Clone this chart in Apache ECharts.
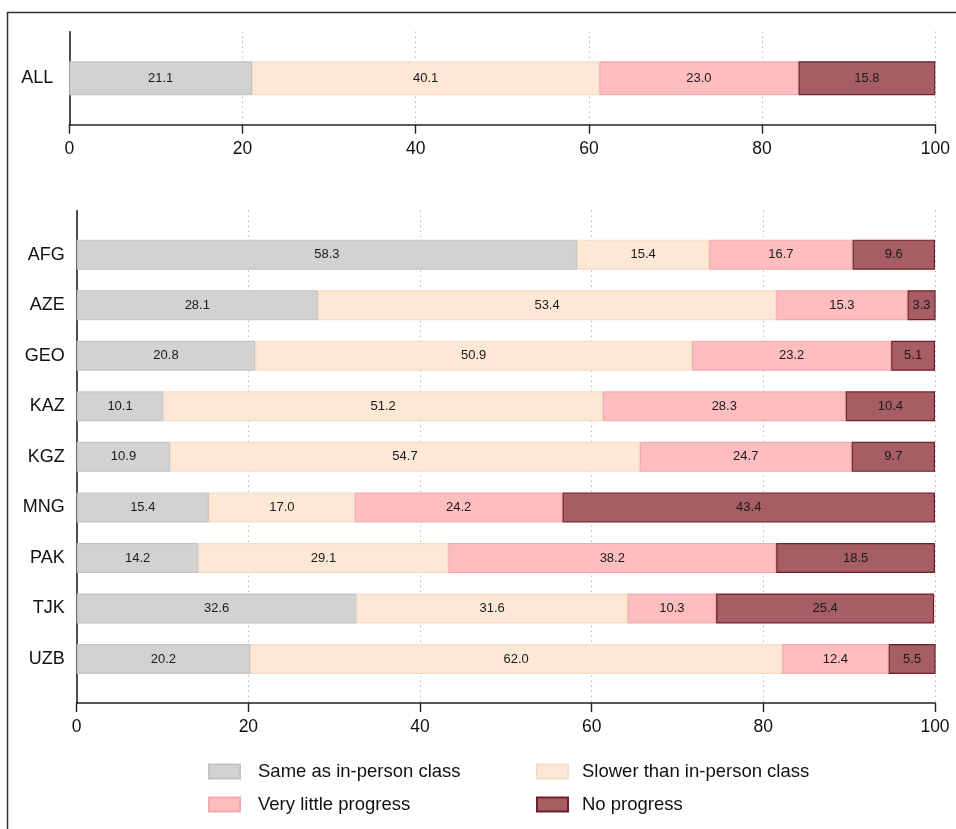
<!DOCTYPE html>
<html>
<head>
<meta charset="utf-8">
<script src="https://cdn.jsdelivr.net/npm/echarts@6/dist/echarts.min.js"></script>
<style>
html,body{margin:0;padding:0;background:#fff;}
#chart{width:956px;height:829px;}
</style>
</head>
<body>
<div id="chart"></div>
<script>
var seriesNames = ['Same as in-person class', 'Slower than in-person class', 'Very little progress', 'No progress'];
var allCategory = ['ALL'];
var allSame = [21.1];
var allSlower = [40.1];
var allLittle = [23.0];
var allNone = [15.8];

var countries = ['AFG', 'AZE', 'GEO', 'KAZ', 'KGZ', 'MNG', 'PAK', 'TJK', 'UZB'];
var sameVals   = [58.3, 28.1, 20.8, 10.1, 10.9, 15.4, 14.2, 32.6, 20.2];
var slowerVals = [15.4, 53.4, 50.9, 51.2, 54.7, 17.0, 29.1, 31.6, 62.0];
var littleVals = [16.7, 15.3, 23.2, 28.3, 24.7, 24.2, 38.2, 10.3, 12.4];
var noneVals   = [9.6, 3.3, 5.1, 10.4, 9.7, 43.4, 18.5, 25.4, 5.5];
var xTicks = [0, 20, 40, 60, 80, 100];

var fills = ['#d2d2d2', '#fde7d5', '#ffbdc0', '#a65d63'];
var borders = ['#c4c4c4', '#f6dcc6', '#efabaf', '#6e1f28'];
var FONT = 'Liberation Sans, Arial, Helvetica, sans-serif';

function mkSeries(name, idx, data, axisIdx, stack, barW) {
  return {
    name: name, type: 'bar', stack: stack, data: data,
    xAxisIndex: axisIdx, yAxisIndex: axisIdx,
    barWidth: barW,
    itemStyle: { color: fills[idx], borderColor: borders[idx], borderWidth: 1.2 },
    label: {
      show: true, position: 'inside', color: '#1a1a1a', fontSize: 13, fontFamily: FONT,
      formatter: function (p) { return Number(p.value).toFixed(1); }
    },
    emphasis: { disabled: true },
    z: 3
  };
}

var valueAxisCommon = function (gridIndex, showAll) {
  return {
    type: 'value', gridIndex: gridIndex, min: 0, max: 100, interval: 20,
    show: showAll,
    axisLine: { show: true, lineStyle: { color: '#222', width: 1.6 } },
    axisTick: { show: true, length: 9, lineStyle: { color: '#222', width: 1.4 } },
    axisLabel: {
      show: true, fontSize: 17.5, color: '#111', fontFamily: FONT, margin: 15,
      formatter: function (v) { return xTicks.indexOf(v) >= 0 ? String(v) : ''; }
    },
    splitLine: { show: true, lineStyle: { color: '#9a9a9a', type: [1, 4], width: 1 } }
  };
};

var chart = echarts.init(document.getElementById('chart'), null, { renderer: 'canvas' });
var option = {
  backgroundColor: '#fff',
  animation: false,
  textStyle: { fontFamily: FONT },
  graphic: [{
    type: 'polyline', silent: true,
    shape: { points: [[7.5, 840], [7.5, 12.5], [970, 12.5]] },
    style: { stroke: '#333', lineWidth: 1.5, fill: null }
  }],
  grid: [
    { left: 69.3, right: 20.7, top: 31.7, height: 93, containLabel: false },
    { left: 76.7, right: 21, top: 210.7, height: 492.3, containLabel: false },
    { left: 76.7, right: 21, top: 229.4, height: 454.9, containLabel: false }
  ],
  xAxis: [
    valueAxisCommon(0, true),
    valueAxisCommon(1, true),
    { type: 'value', gridIndex: 2, min: 0, max: 100, interval: 20, show: false }
  ],
  yAxis: [
    {
      type: 'category', gridIndex: 0, data: allCategory, inverse: true,
      axisLine: { show: true, lineStyle: { color: '#222', width: 1.6 } },
      axisTick: { show: false },
      axisLabel: { fontSize: 18, color: '#111', fontFamily: FONT, margin: 16 },
      splitLine: { show: false }
    },
    {
      type: 'value', gridIndex: 1, min: 0, max: 1,
      axisLine: { show: true, lineStyle: { color: '#222', width: 1.6 } },
      axisTick: { show: false }, axisLabel: { show: false }, splitLine: { show: false }
    },
    {
      type: 'category', gridIndex: 2, data: countries, inverse: true,
      axisLine: { show: false }, axisTick: { show: false },
      axisLabel: { fontSize: 18, color: '#111', fontFamily: FONT, margin: 12 },
      splitLine: { show: false }
    }
  ],
  legend: [
    {
      data: [seriesNames[0], seriesNames[2]], orient: 'vertical', icon: 'rect',
      left: 203, top: 757, itemWidth: 31, itemHeight: 14, itemGap: 14,
      textStyle: { fontSize: 18.5, color: '#111', fontFamily: FONT, padding: [0, 0, 0, 13], lineHeight: 19 },
      selectedMode: false
    },
    {
      data: [seriesNames[1], seriesNames[3]], orient: 'vertical', icon: 'rect',
      left: 531, top: 757, itemWidth: 31, itemHeight: 14, itemGap: 14,
      textStyle: { fontSize: 18.5, color: '#111', fontFamily: FONT, padding: [0, 0, 0, 9], lineHeight: 19 },
      selectedMode: false
    }
  ],
  series: [
    mkSeries(seriesNames[0], 0, allSame, 0, 'all', 34),
    mkSeries(seriesNames[1], 1, allSlower, 0, 'all', 34),
    mkSeries(seriesNames[2], 2, allLittle, 0, 'all', 34),
    mkSeries(seriesNames[3], 3, allNone, 0, 'all', 34),
    mkSeries(seriesNames[0], 0, sameVals, 2, 'cty', 30),
    mkSeries(seriesNames[1], 1, slowerVals, 2, 'cty', 30),
    mkSeries(seriesNames[2], 2, littleVals, 2, 'cty', 30),
    mkSeries(seriesNames[3], 3, noneVals, 2, 'cty', 30)
  ]
};
chart.setOption(option);
</script>
</body>
</html>
